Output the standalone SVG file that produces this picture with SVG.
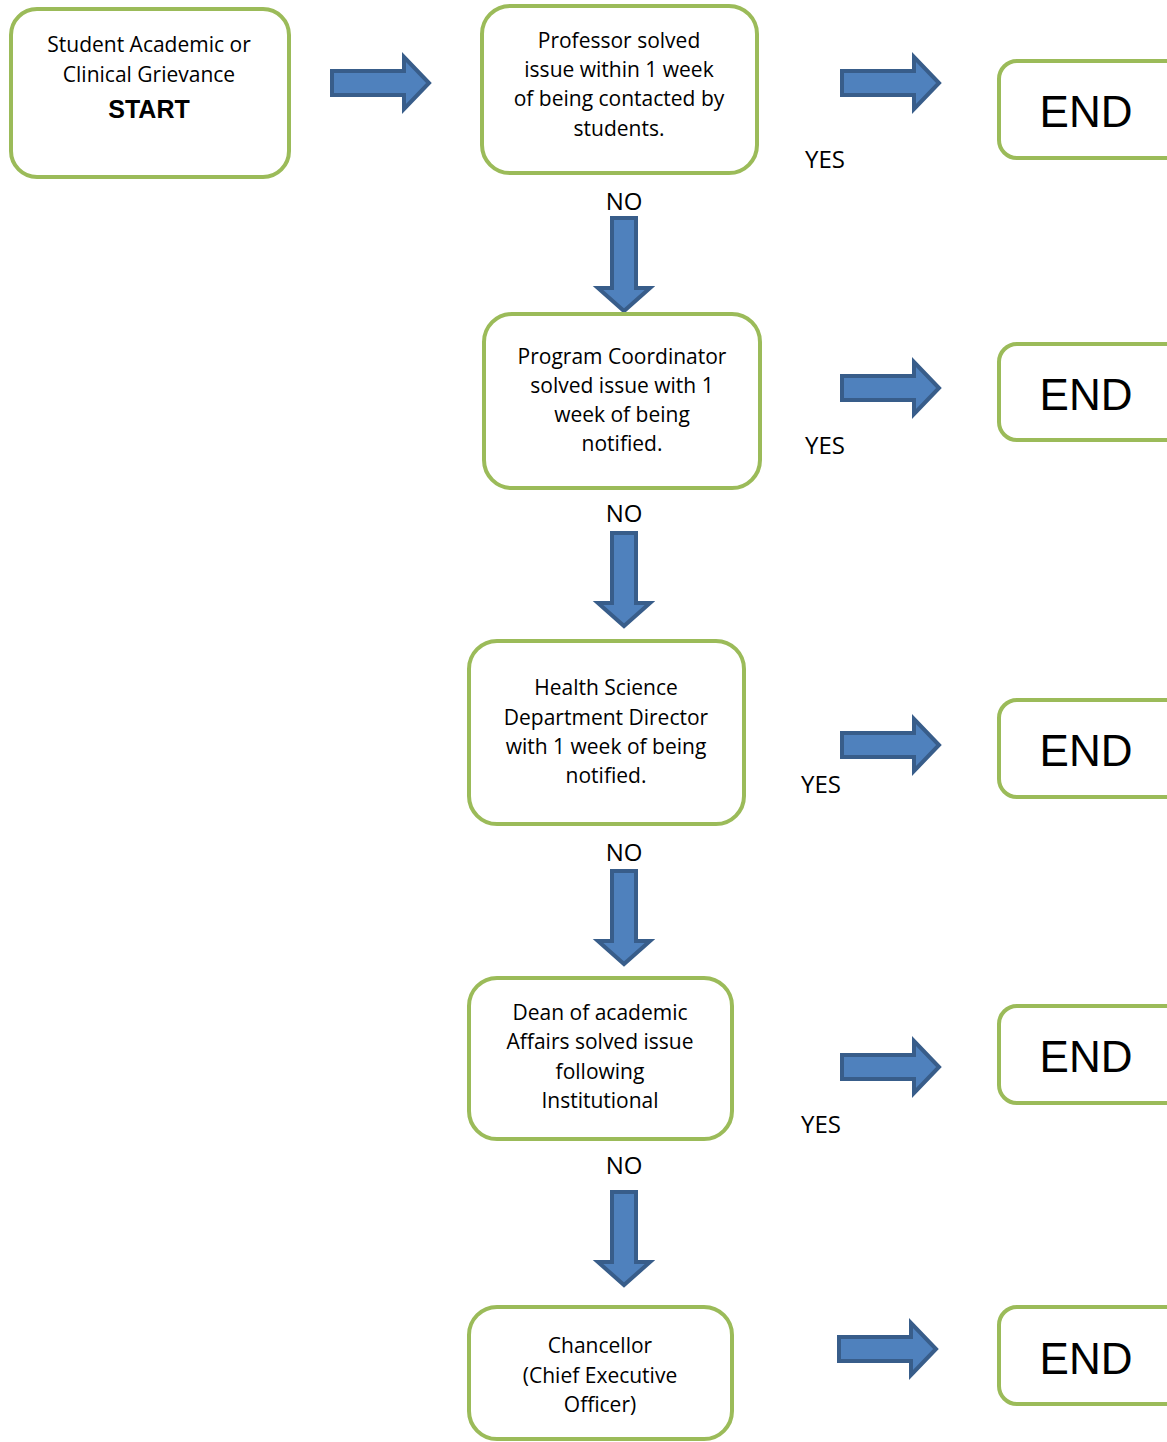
<svg xmlns="http://www.w3.org/2000/svg" width="1167" height="1442" viewBox="0 0 1167 1442">
<style>
.box{fill:#fff;stroke:#9BBB59;stroke-width:4}
.arr{fill:#4F81BD;stroke:#385D8A;stroke-width:4;stroke-linejoin:miter}
text{font-family:"Liberation Sans",Arial,sans-serif;fill:#000;text-anchor:middle}
.t{font-family:"Open Sans","Noto Sans",sans-serif;font-size:21px}
.lbl{font-family:"Open Sans","Noto Sans",sans-serif;font-size:24px}
.end{font-size:44px}
.st{font-size:25px;font-weight:bold}
</style>
<defs>
<path id="ra" class="arr" d="M1,-12 H73 V-26 L98,0 L73,26 V12 H1 Z"/>
<path id="da" class="arr" d="M-12,1 V71 H-26 L0,94 L26,71 H12 V1 Z"/>
</defs>
<rect width="1167" height="1442" fill="#fff"/>
<g id="connectors">
<use href="#ra" transform="translate(331,83)"/>
<use href="#ra" transform="translate(841,83)"/>
<use href="#ra" transform="translate(841,388)"/>
<use href="#ra" transform="translate(841,745)"/>
<use href="#ra" transform="translate(841,1067)"/>
<use href="#ra" transform="translate(838,1349)"/>
<use href="#da" transform="translate(624,217)"/>
<use href="#da" transform="translate(624,532)"/>
<use href="#da" transform="translate(624,870)"/>
<use href="#da" transform="translate(624,1191)"/>
<text class="lbl" x="825" y="168">YES</text>
<text class="lbl" x="825" y="454">YES</text>
<text class="lbl" x="821" y="793">YES</text>
<text class="lbl" x="821" y="1133">YES</text>
<text class="lbl" x="624" y="210">NO</text>
<text class="lbl" x="624" y="522">NO</text>
<text class="lbl" x="624" y="861">NO</text>
<text class="lbl" x="624" y="1174">NO</text>
</g>
<g id="start">
<rect class="box" x="11" y="9" width="278" height="168" rx="26"/>
<text class="t" x="149" y="52">Student Academic or</text>
<text class="t" x="149" y="82">Clinical Grievance</text>
<text class="st" x="149" y="118">START</text>
</g>
<g id="professor">
<rect class="box" x="482" y="6" width="275" height="167" rx="28"/>
<text class="t" x="619" y="48">Professor solved</text>
<text class="t" x="619" y="77">issue within 1 week</text>
<text class="t" x="619" y="106">of being contacted by</text>
<text class="t" x="619" y="136">students.</text>
</g>
<g id="coordinator">
<rect class="box" x="484" y="314" width="276" height="174" rx="28"/>
<text class="t" x="622" y="364">Program Coordinator</text>
<text class="t" x="622" y="393">solved issue with 1</text>
<text class="t" x="622" y="422">week of being</text>
<text class="t" x="622" y="451">notified.</text>
</g>
<g id="director">
<rect class="box" x="469" y="641" width="275" height="183" rx="28"/>
<text class="t" x="606" y="695">Health Science</text>
<text class="t" x="606" y="725">Department Director</text>
<text class="t" x="606" y="754">with 1 week of being</text>
<text class="t" x="606" y="783">notified.</text>
</g>
<g id="dean">
<rect class="box" x="469" y="978" width="263" height="161" rx="28"/>
<text class="t" x="600" y="1020">Dean of academic</text>
<text class="t" x="600" y="1049">Affairs solved issue</text>
<text class="t" x="600" y="1079">following</text>
<text class="t" x="600" y="1108">Institutional</text>
</g>
<g id="chancellor">
<rect class="box" x="469" y="1307" width="263" height="132" rx="28"/>
<text class="t" x="600" y="1353">Chancellor</text>
<text class="t" x="600" y="1383">(Chief Executive</text>
<text class="t" x="600" y="1412">Officer)</text>
</g>
<g id="end1">
<rect class="box" x="999" y="61" width="200" height="97" rx="18"/>
<text class="end" x="1086" y="127">END</text>
</g>
<g id="end2">
<rect class="box" x="999" y="344" width="200" height="96" rx="18"/>
<text class="end" x="1086" y="410">END</text>
</g>
<g id="end3">
<rect class="box" x="999" y="700" width="200" height="97" rx="18"/>
<text class="end" x="1086" y="766">END</text>
</g>
<g id="end4">
<rect class="box" x="999" y="1006" width="200" height="97" rx="18"/>
<text class="end" x="1086" y="1072">END</text>
</g>
<g id="end5">
<rect class="box" x="999" y="1307" width="200" height="97" rx="18"/>
<text class="end" x="1086" y="1374">END</text>
</g>
</svg>
